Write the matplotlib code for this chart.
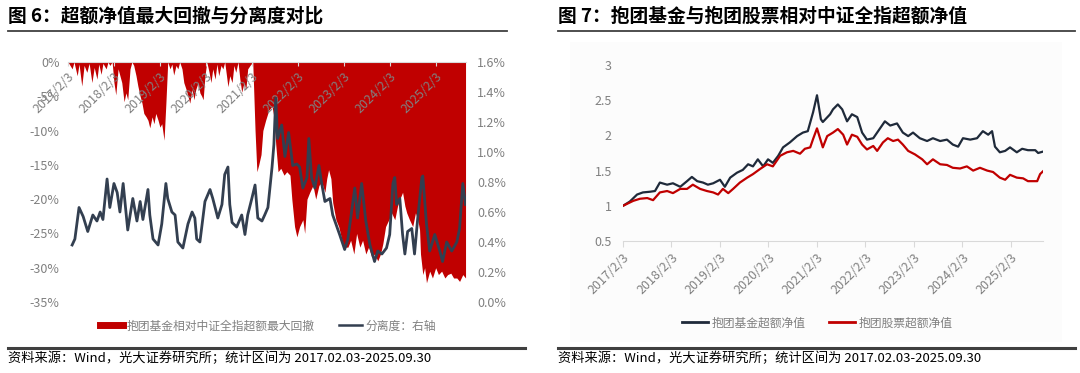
import matplotlib
matplotlib.use("Agg")
import matplotlib.pyplot as plt
from matplotlib.lines import Line2D
from matplotlib.patches import Rectangle
from matplotlib.ticker import FuncFormatter

plt.rcParams['font.family'] = ['Noto Sans CJK SC', 'DejaVu Sans']

# ---------------- data ----------------
title_left = "图 6：超额净值最大回撤与分离度对比"
title_right = "图 7：抱团基金与抱团股票相对中证全指超额净值"
source_text = "资料来源：Wind，光大证券研究所；统计区间为 2017.02.03-2025.09.30"

tick_years = [2017.09, 2018.09, 2019.09, 2020.09, 2021.09, 2022.09, 2023.09, 2024.09, 2025.09]
tick_labels = ["2017/2/3", "2018/2/3", "2019/2/3", "2020/2/3", "2021/2/3",
               "2022/2/3", "2023/2/3", "2024/2/3", "2025/2/3"]

# Max drawdown of the cluster-fund excess NAV (%, left axis)
dd_t = [2017.09, 2017.18, 2017.22, 2017.29, 2017.33, 2017.39, 2017.44, 2017.50, 2017.55, 2017.61,
        2017.66, 2017.72, 2017.76, 2017.81, 2017.85, 2017.92, 2017.96, 2018.00, 2018.05, 2018.09,
        2018.13, 2018.18, 2018.22, 2018.26, 2018.31, 2018.35, 2018.39, 2018.44, 2018.48, 2018.52,
        2018.57, 2018.61, 2018.66, 2018.70, 2018.74, 2018.79, 2018.83, 2018.87, 2018.92, 2018.96,
        2019.00, 2019.05, 2019.09, 2019.13, 2019.18, 2019.22, 2019.26, 2019.31, 2019.35, 2019.39,
        2019.44, 2019.48, 2019.52, 2019.57, 2019.61, 2019.66, 2019.70, 2019.74, 2019.79, 2019.83,
        2019.87, 2019.92, 2019.96, 2020.00, 2020.03, 2020.07, 2020.11, 2020.16, 2020.20, 2020.24,
        2020.29, 2020.33, 2020.37, 2020.42, 2020.46, 2020.50, 2020.57, 2020.61, 2020.66, 2020.70,
        2020.74, 2020.79, 2020.83, 2020.87, 2020.92, 2020.96, 2021.00, 2021.05, 2021.11, 2021.16,
        2021.20, 2021.24, 2021.29, 2021.33, 2021.39, 2021.46, 2021.53, 2021.57, 2021.61, 2021.66,
        2021.72, 2021.79, 2021.85, 2021.92, 2021.96, 2022.02, 2022.07, 2022.13, 2022.20, 2022.24,
        2022.29, 2022.35, 2022.42, 2022.48, 2022.55, 2022.61, 2022.68, 2022.72, 2022.76, 2022.81,
        2022.85, 2022.92, 2022.98, 2023.05, 2023.11, 2023.18, 2023.24, 2023.31, 2023.37, 2023.44,
        2023.50, 2023.57, 2023.63, 2023.70, 2023.76, 2023.83, 2023.89, 2023.94, 2024.00, 2024.07,
        2024.13, 2024.20, 2024.26, 2024.31, 2024.37, 2024.42, 2024.46, 2024.52, 2024.59, 2024.65,
        2024.70, 2024.74, 2024.76, 2024.81, 2024.85, 2024.89, 2024.96, 2025.02, 2025.09, 2025.15,
        2025.22, 2025.29, 2025.35, 2025.42, 2025.48, 2025.55, 2025.61, 2025.68, 2025.74]
dd_v = [0, -1.0, 0, -2.0, -0.3, -3.5, -0.5, -1.5, -0.2, -3.0,
        -0.8, -2.5, -0.3, -1.8, -0.2, -1.0, 0, -0.5, 0, -3.0,
        -4.8, -1.0, -2.0, -3.0, -5.8, -4.5, -5.5, -1.0, 0, -0.5,
        -2.0, -3.5, -5.0, -6.0, -7.5, -8.0, -8.5, -9.6, -8.0, -9.0,
        -7.5, -8.5, -9.5, -9.0, -11.4, -6.0, 0, -1.0, -0.3, -1.9,
        -0.5, -1.0, 0, -1.0, -3.0, -4.0, -5.0, -6.0, -4.0, -5.5,
        -4.0, -3.0, -4.5, -5.0, -5.5, -2.0, 0, -1.5, -3.0, -1.0,
        -2.5, -0.3, -2.0, -0.5, -1.0, 0, -3.6, -2.0, -3.0, -0.5,
        -1.5, 0, -2.5, -4.4, -3.0, -4.0, -1.0, -0.5, 0, -10.0,
        -16.0, -15.0, -13.5, -10.0, -8.5, -7.0, -6.5, -8.0, -12.0, -16.0,
        -15.5, -16.5, -16.0, -16.5, -20.0, -24.0, -25.5, -24.0, -23.0, -25.0,
        -20.0, -19.0, -18.0, -20.0, -18.0, -17.5, -19.0, -17.0, -15.7, -17.0,
        -20.5, -23.0, -24.0, -26.0, -27.0, -27.0, -26.0, -28.0, -25.0, -27.0,
        -26.0, -28.0, -27.0, -28.5, -28.0, -29.0, -28.0, -26.5, -24.0, -23.0,
        -22.0, -23.0, -21.0, -20.0, -19.0, -21.0, -22.0, -23.0, -24.0, -22.0,
        -23.0, -24.5, -28.0, -31.0, -30.0, -32.2, -30.5, -31.5, -30.0, -31.0,
        -30.5, -31.5, -31.0, -30.8, -31.5, -31.5, -32.0, -31.0, -31.5]

# Dispersion (%, right axis)
sep_t = [2017.18, 2017.24, 2017.33, 2017.42, 2017.52, 2017.63, 2017.72, 2017.79, 2017.85, 2017.94,
         2018.00, 2018.09, 2018.16, 2018.22, 2018.29, 2018.39, 2018.50, 2018.59, 2018.66, 2018.72,
         2018.83, 2018.87, 2018.94, 2019.05, 2019.13, 2019.22, 2019.26, 2019.35, 2019.42, 2019.48,
         2019.59, 2019.70, 2019.79, 2019.85, 2019.89, 2019.96, 2020.07, 2020.18, 2020.24, 2020.35,
         2020.44, 2020.50, 2020.57, 2020.61, 2020.66, 2020.76, 2020.87, 2020.94, 2021.00, 2021.09,
         2021.16, 2021.22, 2021.31, 2021.37, 2021.44, 2021.53, 2021.57, 2021.61, 2021.65, 2021.74,
         2021.81, 2021.89, 2021.98, 2022.07, 2022.13, 2022.20, 2022.29, 2022.33, 2022.39, 2022.46,
         2022.55, 2022.61, 2022.68, 2022.79, 2022.85, 2023.00, 2023.11, 2023.18, 2023.33, 2023.39,
         2023.48, 2023.57, 2023.66, 2023.76, 2023.83, 2023.92, 2024.02, 2024.09, 2024.16, 2024.20,
         2024.24, 2024.31, 2024.37, 2024.42, 2024.48, 2024.57, 2024.63, 2024.70, 2024.79, 2024.81,
         2024.89, 2024.96, 2025.07, 2025.18, 2025.24, 2025.33, 2025.44, 2025.55, 2025.61, 2025.68,
         2025.74]
sep_v = [0.38, 0.42, 0.63, 0.57, 0.47, 0.58, 0.54, 0.60, 0.55, 0.82,
         0.63, 0.79, 0.73, 0.60, 0.79, 0.48, 0.69, 0.54, 0.67, 0.55,
         0.75, 0.58, 0.42, 0.38, 0.52, 0.79, 0.69, 0.60, 0.58, 0.40,
         0.36, 0.52, 0.60, 0.56, 0.42, 0.40, 0.67, 0.75, 0.69, 0.56,
         0.65, 0.85, 0.90, 0.65, 0.53, 0.50, 0.58, 0.45, 0.58, 0.69,
         0.78, 0.56, 0.54, 0.58, 0.63, 0.90, 1.05, 1.36, 1.09, 1.18,
         0.97, 1.13, 0.91, 0.92, 0.90, 0.76, 0.83, 1.09, 0.83, 0.76,
         0.91, 0.79, 0.67, 0.69, 0.58, 0.45, 0.35, 0.42, 0.76, 0.56,
         0.79, 0.54, 0.38, 0.27, 0.34, 0.32, 0.36, 0.45, 0.79, 0.83,
         0.65, 0.69, 0.45, 0.32, 0.47, 0.49, 0.32, 0.56, 0.83, 0.84,
         0.52, 0.34, 0.45, 0.34, 0.27, 0.40, 0.34, 0.40, 0.49, 0.79,
         0.65]

# Right chart: excess NAV of cluster funds
fund_t = [2017.09, 2017.23, 2017.38, 2017.50, 2017.65, 2017.75, 2017.85, 2018.00, 2018.12, 2018.27,
          2018.41, 2018.51, 2018.62, 2018.74, 2018.84, 2018.95, 2019.09, 2019.19, 2019.30, 2019.44,
          2019.56, 2019.67, 2019.77, 2019.87, 2019.98, 2020.08, 2020.18, 2020.29, 2020.39, 2020.53,
          2020.68, 2020.80, 2020.90, 2021.01, 2021.09, 2021.17, 2021.21, 2021.36, 2021.42, 2021.52,
          2021.61, 2021.71, 2021.81, 2021.92, 2022.02, 2022.12, 2022.25, 2022.35, 2022.49, 2022.60,
          2022.74, 2022.86, 2022.97, 2023.07, 2023.21, 2023.36, 2023.48, 2023.63, 2023.77, 2023.89,
          2024.00, 2024.10, 2024.25, 2024.39, 2024.51, 2024.62, 2024.70, 2024.76, 2024.86, 2024.97,
          2025.07, 2025.21, 2025.32, 2025.44, 2025.59, 2025.65, 2025.75]
fund_v = [1.00, 1.06, 1.16, 1.19, 1.20, 1.21, 1.33, 1.30, 1.32, 1.27,
          1.35, 1.41, 1.35, 1.33, 1.30, 1.32, 1.37, 1.27, 1.40, 1.47,
          1.51, 1.59, 1.56, 1.66, 1.56, 1.66, 1.61, 1.71, 1.83, 1.90,
          1.99, 2.04, 2.06, 2.33, 2.57, 2.23, 2.19, 2.30, 2.37, 2.44,
          2.37, 2.20, 2.30, 2.26, 2.04, 1.94, 1.96, 2.06, 2.20, 2.14,
          2.17, 2.04, 1.99, 2.04, 1.96, 1.92, 1.96, 1.92, 1.94, 1.87,
          1.84, 1.96, 1.94, 1.96, 2.06, 2.01, 2.06, 1.84, 1.76, 1.78,
          1.83, 1.76, 1.81, 1.79, 1.79, 1.75, 1.77]

# Right chart: excess NAV of cluster stocks
stock_t = [2017.09, 2017.30, 2017.44, 2017.59, 2017.71, 2017.85, 2018.00, 2018.12, 2018.27, 2018.41,
           2018.53, 2018.68, 2018.82, 2018.95, 2019.05, 2019.15, 2019.26, 2019.36, 2019.50, 2019.65,
           2019.77, 2019.91, 2020.06, 2020.18, 2020.33, 2020.47, 2020.60, 2020.74, 2020.84, 2020.95,
           2021.01, 2021.09, 2021.21, 2021.30, 2021.42, 2021.52, 2021.63, 2021.71, 2021.81, 2021.92,
           2022.02, 2022.12, 2022.25, 2022.33, 2022.45, 2022.55, 2022.66, 2022.76, 2022.86, 2022.97,
           2023.11, 2023.26, 2023.36, 2023.48, 2023.63, 2023.77, 2023.89, 2024.04, 2024.18, 2024.31,
           2024.45, 2024.60, 2024.72, 2024.86, 2024.97, 2025.07, 2025.21, 2025.34, 2025.44, 2025.63,
           2025.69, 2025.75]
stock_v = [1.00, 1.07, 1.10, 1.11, 1.08, 1.19, 1.21, 1.18, 1.24, 1.24,
           1.30, 1.24, 1.21, 1.19, 1.16, 1.24, 1.18, 1.24, 1.33, 1.40,
           1.45, 1.52, 1.59, 1.56, 1.71, 1.76, 1.78, 1.74, 1.81, 1.83,
           1.95, 2.10, 1.83, 1.99, 2.04, 2.09, 2.01, 1.87, 2.01, 1.98,
           1.87, 1.80, 1.85, 1.78, 1.90, 1.96, 1.92, 1.94, 1.87, 1.78,
           1.73, 1.66, 1.59, 1.66, 1.59, 1.58, 1.54, 1.53, 1.56, 1.50,
           1.54, 1.50, 1.48, 1.40, 1.37, 1.44, 1.40, 1.39, 1.35, 1.35,
           1.45, 1.49]

left_legend = ["抱团基金相对中证全指超额最大回撤", "分离度：右轴"]
right_legend = ["抱团基金超额净值", "抱团股票超额净值"]

# ---------------- style ----------------
RED = "#c00000"
NAVY = "#333f50"
DARK = "#1f2a3a"
GRAY = "#808080"
AXC = "#d9d9d9"
W, H = 1080, 373


def fx(px):
    return px / W


def fy(py):
    return 1 - py / H


fig = plt.figure(figsize=(W / 100, H / 100), dpi=100)
fig.patch.set_facecolor("white")

# right panel soft background
fig.add_artist(Rectangle((fx(570), fy(342)), fx(1062) - fx(570), fy(42) - fy(342),
                         transform=fig.transFigure, facecolor="#fcfcfc", edgecolor="none", zorder=0))

# ---------------- left chart ----------------
axL = fig.add_axes([fx(68), fy(302), fx(466) - fx(68), fy(62) - fy(302)])
axL.set_facecolor("none")
axL.fill_between(dd_t, dd_v, 0, color=RED, linewidth=0)
axL.set_xlim(2017.09, 2025.75)
axL.set_ylim(-35, 0)
axL.set_yticks(range(-35, 1, 5))
axL.yaxis.set_major_formatter(FuncFormatter(lambda v, p: f"{v:.0f}%"))
for s in ["left", "right", "top"]:
    axL.spines[s].set_visible(False)
axL.spines["bottom"].set_position(("data", 0))
axL.spines["bottom"].set_color(AXC)
axL.spines["bottom"].set_zorder(3)
axL.set_xticks(tick_years)
axL.set_xticklabels(tick_labels, rotation=45, ha="right", rotation_mode="anchor")
axL.tick_params(axis="x", colors=AXC, length=3, labelcolor=GRAY, labelsize=9, pad=3)
axL.tick_params(axis="y", length=0, labelcolor=GRAY, labelsize=9, pad=6)

axR = axL.twinx()
axR.plot(sep_t, sep_v, color=NAVY, lw=2.0)
axR.set_ylim(0, 1.6)
axR.set_yticks([0, 0.2, 0.4, 0.6, 0.8, 1.0, 1.2, 1.4, 1.6])
axR.yaxis.set_major_formatter(FuncFormatter(lambda v, p: f"{v:.1f}%"))
for s in axR.spines.values():
    s.set_visible(False)
axR.tick_params(axis="y", length=0, labelcolor=GRAY, labelsize=9, pad=8)

hL = [Line2D([], [], color=RED, lw=5), Line2D([], [], color=NAVY, lw=1.8)]
fig.legend(hL, left_legend, loc="center", bbox_to_anchor=(fx(268), fy(326)),
           ncol=2, frameon=False, fontsize=8.5, handlelength=2.0, handletextpad=0.3,
           columnspacing=2.0, labelcolor=GRAY)

# ---------------- right chart ----------------
ax2 = fig.add_axes([fx(623), fy(241), fx(1043) - fx(623), fy(65) - fy(241)])
ax2.set_facecolor("none")
ax2.plot(fund_t, fund_v, color=DARK, lw=1.6)
ax2.plot(stock_t, stock_v, color=RED, lw=1.6)
ax2.set_xlim(2017.09, 2025.75)
ax2.set_ylim(0.5, 3)
ax2.set_yticks([0.5, 1, 1.5, 2, 2.5, 3])
ax2.set_yticklabels(["0.5", "1", "1.5", "2", "2.5", "3"])
for s in ["left", "right", "top"]:
    ax2.spines[s].set_visible(False)
ax2.spines["bottom"].set_color(AXC)
ax2.set_xticks(tick_years)
ax2.set_xticklabels(tick_labels, rotation=45, ha="right", rotation_mode="anchor")
ax2.tick_params(axis="x", colors=AXC, length=4, labelcolor=GRAY, labelsize=9, pad=3)
ax2.tick_params(axis="y", length=0, labelcolor=GRAY, labelsize=9, pad=8)

hR = [Line2D([], [], color=DARK, lw=2), Line2D([], [], color=RED, lw=2)]
fig.legend(hR, right_legend, loc="center", bbox_to_anchor=(fx(817), fy(323)),
           ncol=2, frameon=False, fontsize=8.5, handlelength=2.2, handletextpad=0.3,
           columnspacing=2.0, labelcolor=GRAY)

# ---------------- titles, rules, sources ----------------
for x0, x1, title in [(8, 507, title_left), (558, 1075, title_right)]:
    fig.text(fx(x0), fy(16), title, fontsize=13.5, fontweight="bold", color="black",
             ha="left", va="center")
    fig.add_artist(Line2D([fx(x0), fx(x1)], [fy(31), fy(31)], color="#404040", lw=1.3,
                          transform=fig.transFigure))
for x0, x1 in [(8, 525), (558, 1075)]:
    fig.add_artist(Line2D([fx(x0), fx(x1)], [fy(347.5), fy(347.5)], color="#404040", lw=2.2,
                          transform=fig.transFigure))
    fig.text(fx(x0), fy(358), source_text, fontsize=9.5, color="black", ha="left", va="center")

fig.savefig("out.png", dpi=100)
